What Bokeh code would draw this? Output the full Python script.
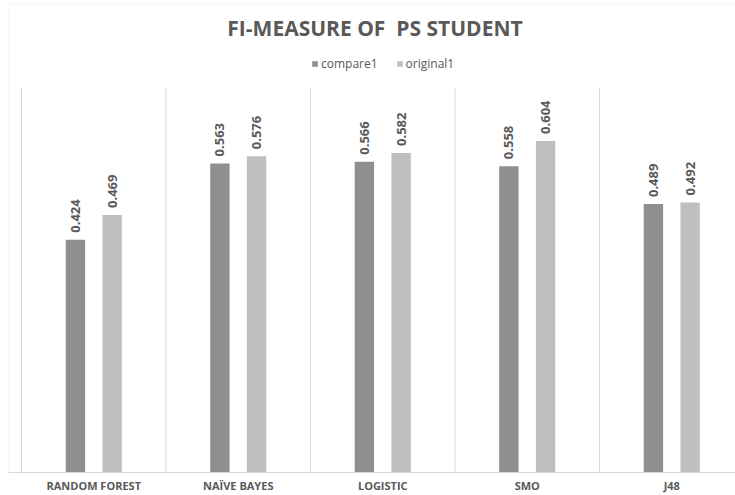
import numpy as np
from bokeh.plotting import figure
from bokeh.models import (Range1d, FixedTicker, ColumnDataSource, Legend, LegendItem,
                          BoxAnnotation, Label)
from bokeh.core.properties import value
from bokeh.embed import file_html
from bokeh.resources import INLINE

categories = ["RANDOM FOREST", "NAÏVE BAYES", "LOGISTIC", "SMO", "J48"]
compare1 = [0.424, 0.563, 0.566, 0.558, 0.489]
original1 = [0.469, 0.576, 0.582, 0.604, 0.492]
series_names = ["compare1", "original1"]
series_values = [compare1, original1]
colors = ["#8f8f8f", "#bfbfbf"]
title_text = "FI-MEASURE OF \u00a0PS STUDENT"
y_axis_max = 0.7

TXT = "#595959"
GRID = "#d9d9d9"

# layout (pixels)
PX_PER_CAT = 144.5
X0_PX = 13          # distance from chart border to first gridline
FRAME_W = 727
FRAME_H = 468
AXIS_PX = 471       # page y of the category axis
PX_PER_UNIT = (AXIS_PX - 87.5) / y_axis_max

centers = [i + 0.5 for i in range(len(categories))]
offsets = [-0.127, 0.127]
bar_w = 0.134

x_start = -X0_PX / PX_PER_CAT
x_end = x_start + FRAME_W / PX_PER_CAT
y_end = FRAME_H / PX_PER_UNIT

p = figure(width=735, height=495, output_backend="svg", toolbar_location=None,
           x_range=Range1d(x_start, x_end), y_range=Range1d(0, y_end),
           min_border_left=8, min_border_right=0, min_border_top=3,
           min_border_bottom=0, title=None)

# vertical separators between categories (up to the value-axis maximum)
bounds = list(range(len(categories) + 1))
p.segment(x0=bounds, y0=[0] * len(bounds), x1=bounds, y1=[y_axis_max] * len(bounds),
          line_color=GRID, line_width=1)

renderers = []
for name, vals, col, off in zip(series_names, series_values, colors, offsets):
    src = ColumnDataSource(dict(
        x=[c + off for c in centers],
        top=vals,
        label=["%.3f" % v for v in vals],
    ))
    r = p.vbar(x="x", top="top", width=bar_w, source=src, fill_color=col,
               line_color=None)
    renderers.append(r)
    p.text(x="x", y="top", text="label", source=src, angle=np.pi / 2,
           text_align="left", text_baseline="middle", y_offset=-7,
           text_font=value("Open Sans"), text_font_size="13px",
           text_font_style="bold", text_color=TXT)

legend = Legend(items=[LegendItem(label=n, renderers=[r])
                       for n, r in zip(series_names, renderers)],
                orientation="horizontal", location=(303, 400),
                glyph_width=7, glyph_height=7, label_standoff=3, spacing=18,
                padding=0, margin=0, border_line_color=None,
                background_fill_alpha=0,
                label_text_font="Open Sans", label_text_font_size="12px",
                label_text_color=TXT)
p.add_layout(legend, "center")

title = Label(x=(x_start + x_end) / 2 + 3 / PX_PER_CAT,
              y=(AXIS_PX - 27) / PX_PER_UNIT, text=title_text,
              text_align="center", text_baseline="middle",
              text_font="Open Sans", text_font_size="21px",
              text_font_style="bold", text_color=TXT)
p.add_layout(title)

border = BoxAnnotation(left=x_start, right=x_end + 1, top=y_end, bottom=-1,
                       fill_alpha=0, line_color=GRID, line_width=2,
                       level="underlay")
p.add_layout(border)

p.yaxis.visible = False
p.ygrid.visible = False
p.xgrid.visible = False
p.xaxis.ticker = FixedTicker(ticks=centers)
p.xaxis.major_label_overrides = {c: lab for c, lab in zip(centers, categories)}
p.xaxis.axis_line_color = GRID
p.xaxis.major_tick_line_color = None
p.xaxis.minor_tick_line_color = None
p.xaxis.major_tick_in = 0
p.xaxis.major_tick_out = 0
p.xaxis.major_label_standoff = 5
p.xaxis.major_label_text_font = "Open Sans"
p.xaxis.major_label_text_font_size = "11px"
p.xaxis.major_label_text_font_style = "bold"
p.xaxis.major_label_text_color = TXT
p.outline_line_color = None

open("out.html", "w").write(file_html(p, INLINE))
